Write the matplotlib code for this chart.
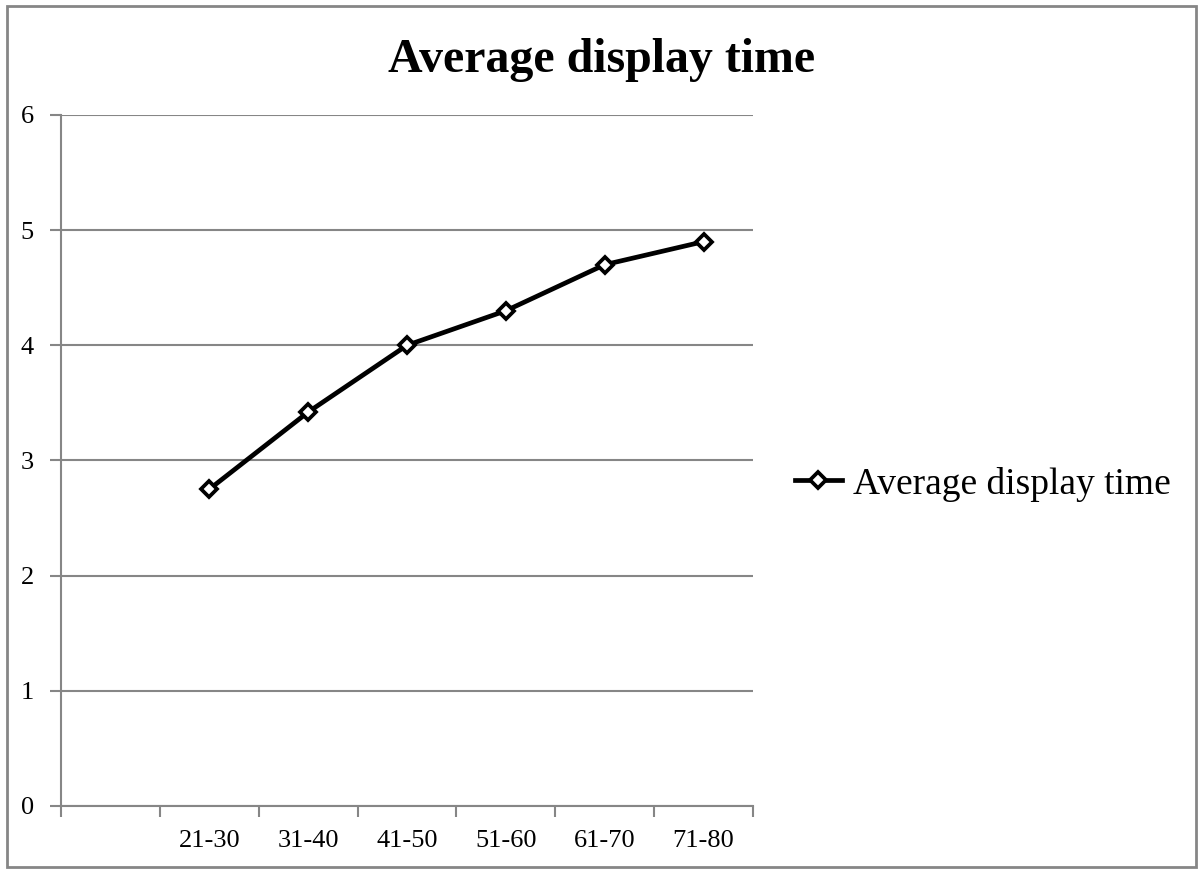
import matplotlib
matplotlib.use('Agg')
import matplotlib.pyplot as plt
from matplotlib.patches import Rectangle
from matplotlib.lines import Line2D

categories = ['', '21-30', '31-40', '41-50', '51-60', '61-70', '71-80']
values = [2.75, 3.42, 4.0, 4.3, 4.7, 4.9]
series_name = 'Average display time'
y_ticks = [0, 1, 2, 3, 4, 5, 6]

plt.rcParams['font.family'] = ['Liberation Serif', 'DejaVu Serif']
grey = '#868686'

fig = plt.figure(figsize=(11.98, 8.69), dpi=100)
# outer chart border
fig.patches.append(Rectangle((0.0058, 0.0023), 0.9925, 0.9908, transform=fig.transFigure,
                             fill=False, edgecolor=grey, linewidth=2))

ax = fig.add_axes([0.0509, 0.0725, 0.5776, 0.7952])
x = list(range(1, len(categories)))
ax.plot(x, values, color='black', linewidth=3.4, marker='D', markersize=8.5,
        markerfacecolor='white', markeredgecolor='black', markeredgewidth=2.7,
        clip_on=False, zorder=3)

ax.set_xlim(-0.5, len(categories) - 0.5)
ax.set_ylim(0, 6)
ax.set_yticks(y_ticks)
ax.set_yticklabels([str(v) for v in y_ticks], fontsize=19)
ax.set_xticks(range(len(categories)))
ax.set_xticklabels(categories, fontsize=19)
ax.set_xticks([i - 0.5 for i in range(len(categories) + 1)], minor=True)
ax.tick_params(axis='x', which='major', length=0, pad=17.5)
ax.tick_params(axis='x', which='minor', length=8, width=1.5, color=grey, direction='out')
ax.tick_params(axis='y', length=8, width=1.5, color=grey, direction='out', pad=11.5)
ax.yaxis.grid(True, color=grey, linewidth=1.5)
ax.set_axisbelow(True)
for s in ['top', 'right']:
    ax.spines[s].set_visible(False)
for s in ['left', 'bottom']:
    ax.spines[s].set_color(grey)
    ax.spines[s].set_linewidth(1.5)

fig.text(0.502, 0.931, series_name, ha='center', va='center', fontsize=34.5, fontweight='bold')

handle = Line2D([], [], color='black', linewidth=3.4, marker='D', markersize=8.5,
                markerfacecolor='white', markeredgecolor='black', markeredgewidth=2.7)
fig.legend([handle], [series_name], loc='center left', bbox_to_anchor=(0.6636, 0.443),
           frameon=False, fontsize=27, handlelength=1.25, handletextpad=0.3,
           borderpad=0, borderaxespad=0)

fig.savefig('out.png', dpi=100)
